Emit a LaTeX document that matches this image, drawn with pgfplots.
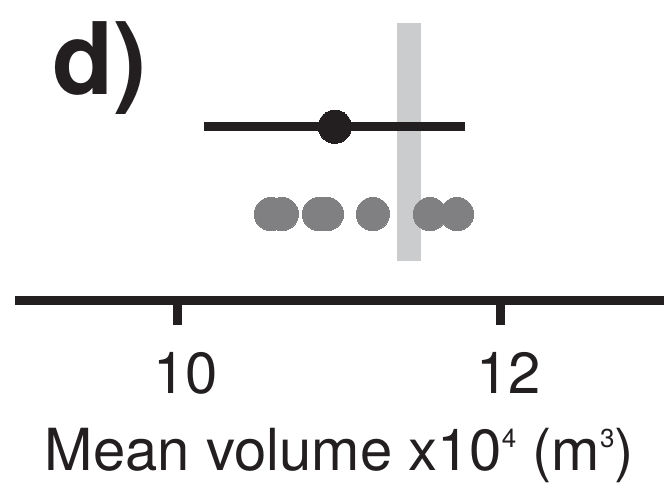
\documentclass[border=0pt]{standalone}
\usepackage{pgfplots}
\pgfplotsset{compat=1.18}
\usepackage{fontspec}
\setmainfont{TeX Gyre Heros}
\definecolor{inkblack}{HTML}{231F20}
\definecolor{dotgray}{HTML}{808083}
\definecolor{bandgray}{HTML}{CBCCCE}
\newcommand{\supnum}[1]{\raisebox{23bp}{\fontsize{26bp}{26bp}\selectfont #1}}
\begin{document}
\begin{tikzpicture}
\path[use as bounding box] (-14.6bp,-186.7bp) rectangle (655.4bp,300.3bp);
\begin{axis}[
  scale only axis,
  width=649.6bp, height=277bp,
  xmin=8.99, xmax=13.01, ymin=0, ymax=277,
  axis x line*=bottom, axis y line=none,
  axis line style={line width=9bp, inkblack},
  xtick={10,12},
  tick style={line width=9bp, inkblack},
  tick align=outside, major tick length=24.7bp,
  /pgf/number format/assume math mode=true,
  xticklabel style={font=\fontsize{58bp}{60bp}\selectfont, text=inkblack, anchor=base, inner sep=0pt, yshift=-68bp, xshift=8bp},
  xlabel={Mean volume x10\supnum{4} (m\supnum{3})},
  xlabel style={font=\fontsize{58bp}{60bp}\selectfont, text=inkblack, anchor=base, inner sep=0pt, at={(axis description cs:0.5,0)}, yshift=-169.7bp},
  clip=false,
]
% grey vertical band
\addplot[draw=none, fill=bandgray] coordinates {(11.356,39.6) (11.508,39.6) (11.508,277) (11.356,277)} -- cycle;
% individual estimates
\addplot[dotgray, only marks, mark=*, mark size=16.6bp, mark options={draw=dotgray, fill=dotgray, line width=0pt}] coordinates {
  (10.576,86.3) (10.644,86.3) (10.873,86.3) (10.923,86.3) (11.207,86.3) (11.560,86.3) (11.728,86.3)};
% mean with interval
\addplot[inkblack, only marks, mark=*, mark size=16.6bp, mark options={draw=inkblack, fill=inkblack, line width=0pt},
  error bars/.cd, x dir=both, x explicit,
  error mark=none, error bar style={line width=9.3bp, inkblack}]
  coordinates {(10.972,173.6) -= (0.813,0) += (0.805,0)};
\end{axis}
\node[anchor=base west, inner sep=0pt, text=inkblack, font=\fontsize{100bp}{100bp}\selectfont\bfseries] at (38bp,205.3bp) {d)};
\end{tikzpicture}
\end{document}
